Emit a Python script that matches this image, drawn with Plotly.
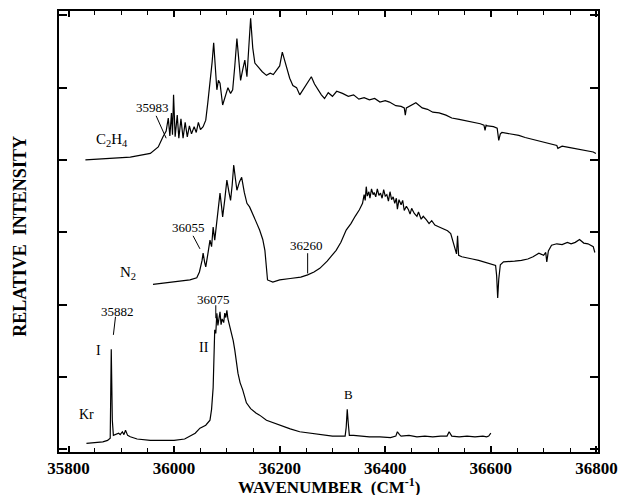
import plotly.graph_objects as go

# ---- data (wavenumber, relative intensity; each spectrum offset by its own baseline) ----
c2h4_x = [35832, 35880, 35917, 35955, 35970, 35979, 35985, 35989, 35992, 35995, 35997, 35999,
          36002, 36006, 36009, 36013, 36017, 36021, 36025, 36029, 36033, 36038, 36042, 36046,
          36050, 36055, 36060, 36064, 36068, 36072, 36075, 36078, 36081, 36084,
          36087, 36092, 36097, 36102, 36107, 36111, 36115, 36119, 36123, 36126, 36130, 36134,
          36138, 36141, 36145, 36149, 36153, 36160, 36167, 36175, 36182, 36188, 36194, 36200,
          36205, 36212, 36219, 36225, 36232, 36238, 36245, 36252, 36260, 36266, 36272, 36279,
          36285, 36292, 36300, 36308, 36319, 36330, 36340, 36350, 36360, 36370, 36380, 36390,
          36400, 36408, 36420, 36430, 36436, 36438, 36440, 36448, 36458, 36470, 36480, 36490,
          36502, 36515, 36526, 36540, 36555, 36570, 36580, 36587, 36589, 36591, 36594, 36605,
          36612, 36615, 36618, 36621, 36630, 36642, 36653, 36665, 36680, 36695, 36710, 36720,
          36725, 36727, 36735, 36750, 36765, 36780, 36794, 36799]
c2h4_y = [4.00, 4.02, 4.04, 4.09, 4.18, 4.32, 4.40, 4.58, 4.33, 4.65, 4.35, 4.90,
          4.32, 4.62, 4.30, 4.57, 4.30, 4.52, 4.32, 4.47, 4.36, 4.46, 4.38, 4.52,
          4.42, 4.46, 4.55, 4.80, 5.06, 5.35, 5.62, 5.20, 4.97, 5.10,
          5.06, 4.76, 4.90, 5.00, 4.92, 4.97, 5.30, 5.68, 5.35, 5.10, 5.25, 5.38,
          5.15, 5.50, 5.96, 5.55, 5.34, 5.28, 5.22, 5.17, 5.20, 5.18, 5.24, 5.30,
          5.49, 5.30, 5.13, 5.03, 5.00, 4.90, 4.98, 5.05, 5.15, 5.05, 4.98, 4.90,
          4.85, 4.93, 4.88, 4.95, 4.92, 4.88, 4.90, 4.84, 4.86, 4.83, 4.85, 4.80,
          4.82, 4.80, 4.75, 4.74, 4.72, 4.62, 4.72, 4.75, 4.79, 4.72, 4.70, 4.66,
          4.65, 4.62, 4.58, 4.56, 4.54, 4.52, 4.50, 4.48, 4.41, 4.48, 4.47, 4.46,
          4.44, 4.27, 4.36, 4.38, 4.37, 4.36, 4.34, 4.31, 4.28, 4.26, 4.23, 4.21,
          4.20, 4.16, 4.19, 4.17, 4.15, 4.13, 4.11, 4.09]

n2_x = [35960, 36000, 36030, 36043, 36048, 36053, 36055, 36058, 36060, 36064, 36068, 36071,
        36074, 36077, 36082, 36087, 36090, 36092, 36096, 36100, 36104, 36107, 36110, 36113,
        36116, 36119, 36124, 36128, 36133, 36138, 36143, 36149, 36155, 36162, 36168, 36172,
        36175, 36177, 36187, 36200, 36220, 36240, 36253, 36265, 36276, 36290, 36307, 36316,
        36326, 36335, 36343, 36351, 36357, 36360, 36362, 36364, 36366, 36369, 36371, 36374,
        36377, 36379, 36382, 36385, 36388, 36391, 36394, 36397, 36400, 36403, 36406, 36409,
        36412, 36415, 36418, 36421, 36423, 36426, 36430, 36433, 36436, 36440, 36444, 36447,
        36450, 36455, 36460, 36463, 36468, 36472, 36478, 36483, 36488, 36494, 36500, 36506,
        36512, 36518, 36524, 36528, 36532, 36535, 36537, 36539, 36545, 36555,
        36565, 36577, 36590, 36600, 36609, 36611, 36613, 36615, 36618, 36624, 36635, 36645,
        36658, 36670, 36680, 36691, 36700, 36704, 36706, 36709, 36715, 36725, 36735, 36745,
        36752, 36760, 36768, 36776, 36784, 36790, 36794, 36797]
n2_y = [2.28, 2.31, 2.34, 2.37, 2.45, 2.61, 2.71, 2.58, 2.52, 2.70, 2.89, 2.80,
        3.07, 2.89, 3.20, 3.54, 3.35, 3.21, 3.45, 3.72, 3.55, 3.44, 3.65, 3.93,
        3.75, 3.58, 3.70, 3.76, 3.55, 3.40, 3.35, 3.26, 3.15, 3.03, 2.90, 2.75,
        2.55, 2.34, 2.31, 2.34, 2.36, 2.38, 2.41, 2.45, 2.50, 2.60, 2.75, 2.86,
        3.03, 3.12, 3.22, 3.31, 3.40, 3.52, 3.44, 3.63, 3.50, 3.56, 3.47, 3.60,
        3.52, 3.55, 3.49, 3.60, 3.51, 3.54, 3.47, 3.59, 3.50, 3.52, 3.43, 3.56,
        3.45, 3.49, 3.40, 3.47, 3.32, 3.45, 3.38, 3.44, 3.30, 3.36, 3.31, 3.25,
        3.33, 3.26, 3.22, 3.28, 3.18, 3.22, 3.17, 3.12, 3.16, 3.10, 3.08, 3.06,
        3.04, 3.02, 2.98, 2.88, 2.75, 2.70, 2.95, 2.68, 2.66, 2.64,
        2.63, 2.61, 2.58, 2.56, 2.54, 2.40, 2.09, 2.35, 2.55, 2.59, 2.60, 2.60,
        2.61, 2.63, 2.66, 2.71, 2.68, 2.72, 2.59, 2.74, 2.82, 2.84, 2.83, 2.86,
        2.84, 2.86, 2.90, 2.85, 2.84, 2.82, 2.80, 2.72]

kr_x = [35834, 35850, 35865, 35874, 35879, 35881, 35883, 35885, 35890, 35895, 35898, 35902,
        35905, 35908, 35912, 35917, 35930, 35955, 35980, 36000, 36020, 36030, 36040, 36049,
        36060, 36068, 36071, 36074, 36077, 36079, 36081, 36083, 36085, 36087, 36089, 36091,
        36094, 36096, 36098, 36100, 36102, 36104, 36107, 36109, 36112, 36115, 36118, 36121,
        36125, 36130, 36137, 36145, 36155, 36162, 36175, 36190, 36200, 36220, 36238, 36260,
        36280, 36300, 36315, 36324, 36326, 36328, 36330, 36332, 36340, 36355, 36370, 36390,
        36410, 36420, 36423, 36427, 36430, 36445, 36460, 36475, 36490, 36505, 36517, 36521,
        36524, 36526, 36540, 36555, 36570, 36585, 36592, 36596, 36600]
kr_y = [0.08, 0.09, 0.10, 0.12, 0.15, 1.38, 0.40, 0.19, 0.20, 0.22, 0.20, 0.24,
        0.20, 0.26, 0.19, 0.17, 0.14, 0.12, 0.12, 0.12, 0.14, 0.18, 0.22, 0.29,
        0.33, 0.40, 0.55, 0.85, 1.65, 1.60, 1.88, 1.71, 1.80, 1.90, 1.72, 1.80,
        1.75, 1.88, 1.82, 1.92, 1.80, 1.74, 1.68, 1.58, 1.50, 1.37, 1.20, 1.05,
        0.92, 0.82, 0.64, 0.56, 0.50, 0.47, 0.40, 0.36, 0.33, 0.28, 0.24, 0.22,
        0.20, 0.18, 0.18, 0.18, 0.30, 0.55, 0.35, 0.19, 0.19, 0.18, 0.17, 0.17,
        0.16, 0.18, 0.24, 0.20, 0.18, 0.19, 0.17, 0.18, 0.17, 0.18, 0.18, 0.24,
        0.19, 0.18, 0.17, 0.18, 0.17, 0.18, 0.17, 0.18, 0.22]

x_ticks = [35800, 36000, 36200, 36400, 36600, 36800]
x_tick_labels = ["35800", "36000", "36200", "36400", "36600", "36800"]
y_ticks = [0, 1, 2, 3, 4, 5, 6]
x_title = "<b>WAVENUMBER  (CM<sup>-1</sup>)</b>"
y_title = "<b>RELATIVE  INTENSITY</b>"

fig = go.Figure()
for xs, ys in [(c2h4_x, c2h4_y), (n2_x, n2_y), (kr_x, kr_y)]:
    fig.add_trace(go.Scatter(x=xs, y=ys, mode="lines",
                             line=dict(color="black", width=1.2), showlegend=False))

serif = "Liberation Serif, Times New Roman, serif"

# labels: (x, y, text, size)
labels = [
    (35883, 4.27, "C<sub>2</sub>H<sub>4</sub>", 15),
    (35913, 2.43, "N<sub>2</sub>", 15),
    (35834, 0.48, "Kr", 14),
    (35857, 1.36, "I", 14),
    (36057, 1.41, "II", 14),
    (36330, 0.75, "B", 13),
    (35960, 4.72, "35983", 13),
    (36028, 3.07, "36055", 13),
    (36251, 2.81, "36260", 13),
    (35893, 1.91, "35882", 13),
    (36075, 2.07, "36075", 13),
]
for x, y, t, s in labels:
    fig.add_annotation(x=x, y=y, text=t, showarrow=False,
                       font=dict(family=serif, size=s, color="#000000"))

# axis titles placed as paper annotations
fig.add_annotation(xref="paper", yref="paper", x=0.50, y=-0.076, text=x_title,
                   showarrow=False, xanchor="center", yanchor="middle", borderpad=0,
                   font=dict(family=serif, size=17, color="#000000"))
fig.add_annotation(xref="paper", yref="paper", x=-0.0725, y=0.49, text=y_title,
                   showarrow=False, xanchor="center", yanchor="middle", textangle=-90,
                   font=dict(family=serif, size=18, color="#000000"))

# leader lines: (x0, y0, x1, y1)
leaders = [
    (35966, 4.61, 35985, 4.30),
    (36036, 2.95, 36049, 2.77),
    (36253, 2.71, 36253, 2.43),
    (35889, 1.83, 35885, 1.58),
    (36079, 1.99, 36079, 1.81),
]
for x0, y0, x1, y1 in leaders:
    fig.add_shape(type="line", x0=x0, y0=y0, x1=x1, y1=y1, xref="x", yref="y",
                  line=dict(color="black", width=1))

fig.update_layout(
    width=618, height=495,
    margin=dict(l=59, r=20, t=11, b=43, autoexpand=False),
    paper_bgcolor="white", plot_bgcolor="white",
    font=dict(family=serif, color="#000000"),
)
fig.update_xaxes(
    range=[35782, 36803], tickvals=x_ticks,
    ticktext=["<b>" + t + "</b>" for t in x_tick_labels],
    ticks="inside", ticklen=6, tickwidth=1.5, tickcolor="black",
    minor=dict(dtick=50, tick0=35800, ticks="inside", ticklen=4, tickcolor="black", tickwidth=1),
    showline=True, linewidth=1.8, linecolor="black", mirror="ticks",
    showgrid=False, zeroline=False, automargin=False,
    tickfont=dict(family=serif, size=17, color="#000000"),
)
fig.update_yaxes(
    range=[-0.04, 6.06], tickvals=y_ticks, showticklabels=False,
    ticks="inside", ticklen=8, tickwidth=1.5, tickcolor="black",
    showline=True, linewidth=1.8, linecolor="black", mirror="ticks",
    showgrid=False, zeroline=False, automargin=False,
)

fig.write_html("out.html")
